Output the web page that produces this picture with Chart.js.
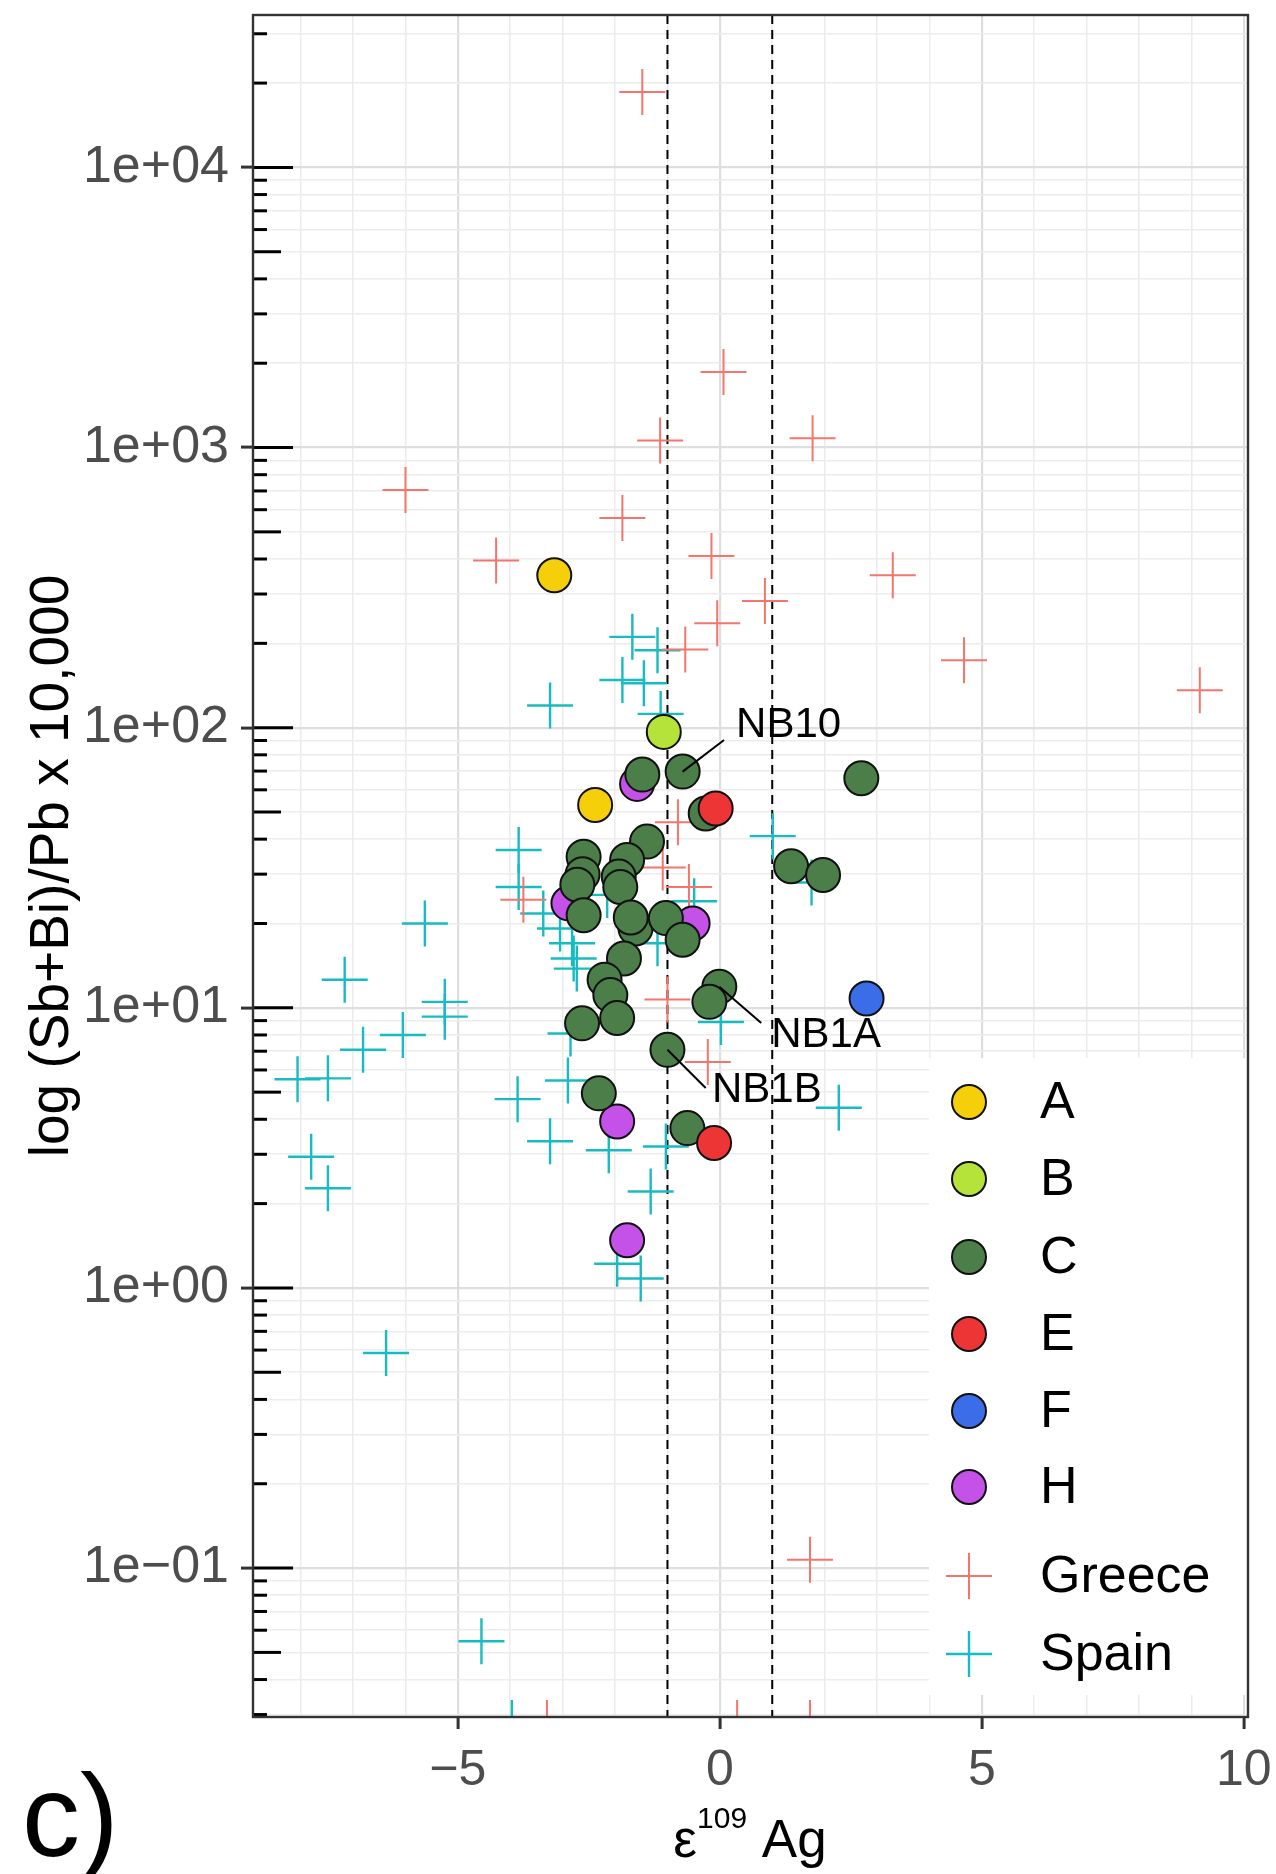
<!DOCTYPE html>
<html>
<head>
<meta charset="utf-8">
<script src="https://cdn.jsdelivr.net/npm/chart.js@4.4.1/dist/chart.umd.min.js"></script>
<style>
html, body { margin: 0; padding: 0; background: #fff; }
#wrap { position: relative; width: 1276px; height: 1874px; overflow: hidden; }
#plot { position: absolute; left: 0; top: 0; }
.txt { position: absolute; font-family: 'Liberation Sans', Arial, sans-serif; color: #000; white-space: nowrap; line-height: 1; }
</style>
</head>
<body>
<div id="wrap">
  <canvas id="plot" width="1276" height="1874"></canvas>
  <div class="txt" style="left:750px; top:1812px; font-size:53px; transform:translateX(-50%);">ε<span style="font-size:30px; position:relative; top:-29px;">109</span> Ag</div>
  <div class="txt" style="left:22px; top:1758px; font-size:116px;">c)</div>
</div>
<script>
const FONT = "'Liberation Sans', Arial, sans-serif";

// groups (circles)
const aX = [-3.16, -2.38];
const aY = [350, 53];
const bX = [-1.07];
const bY = [96.6];
const cX = [-1.48, -0.71, -0.27, -1.39, -1.77, -2.60, -2.62, -2.72, 1.36, 2.70, 1.97, -1.93, -1.90, -2.60,
            -1.61, -1.70, -1.03, -0.71, -1.83, -2.20, -2.09, -1.96, -2.63, -0.01, -0.20, -1.00, -2.31, -0.62];
const cY = [68, 69.7, 49.4, 39.2, 33.7, 34.6, 30.0, 27.5, 32, 66, 29.8, 29.4, 27.0, 21.4,
            19.2, 21.0, 20.9, 17.5, 15.0, 12.6, 11.1, 9.2, 8.8, 11.9, 10.5, 7.08, 4.95, 3.72];
const eX = [-0.08, -0.11];
const eY = [51.5, 3.29];
const fX = [2.80];
const fY = [10.8];
const hX = [-1.58, -2.89, -0.52, -1.96, -1.77];
const hY = [63, 23.6, 20, 3.93, 1.48];

// reference crosses
const greeceX = [-1.48, 0.07, -1.14, 1.77, -6.00, -1.86, -4.27, -0.16, 3.30, 0.86, -0.05, -0.66, 4.66, 9.16,
                 -0.80, -1.09, -0.59, -3.75, -1.00, -0.23, 1.72, -3.30, 0.33, 1.72];
const greeceY = [18600, 1860, 1060, 1080, 705, 560, 395, 410, 350, 283, 236, 190, 174, 136,
                 46, 31.7, 27, 24.3, 10.7, 6.4, 0.107, 0.028, 0.028, 0.028];
const spainX = [-1.67, -1.19, -1.86, -1.45, -1.13, -3.24, -3.84, 1.01, 1.75, -3.84, -3.37, -3.05, -2.82, -2.79,
                -2.73, -2.15, -1.19, -0.49, 0.02, -2.85, -2.90, -3.86, -3.24, -2.12, -1.03, -1.32, -1.96, -1.51,
                -5.63, -7.16, -5.25, -5.25, -6.05, -6.81, -8.06, -7.48, -7.80, -7.48, -6.37, -4.55, 2.27, -3.97];
const spainY = [211, 189, 148, 144, 112, 120, 36.6, 41, 28, 27, 21.7, 19.2, 17.0, 15.0,
                13.8, 25.3, 17, 24, 8.9, 8.1, 5.5, 4.72, 3.34, 3.1, 3.2, 2.21, 1.22, 1.08,
                20.0, 12.6, 10.5, 9.3, 8.0, 7.08, 5.56, 5.6, 2.94, 2.27, 0.586, 0.0548, 4.4, 0.028];

// tick labels
const xLabelValues = [-5, 0, 5, 10];
const xLabelText = ['\u22125', '0', '5', '10'];
const yLabelValues = [0.1, 1, 10, 100, 1000, 10000];
const yLabelText = ['1e\u221201', '1e+00', '1e+01', '1e+02', '1e+03', '1e+04'];

// reference lines and sample labels
const vLines = [-1, 1];
const labelNames = ['NB10', 'NB1A', 'NB1B'];
const labelPointX = [-0.71, -0.01, -1.00];
const labelPointY = [69.7, 11.9, 7.08];
const labelLineX = [0.08, 0.79, -0.27];
const labelLineY = [90.4, 8.83, 5.17];
const labelTextX = [0.31, 0.98, -0.15];
const labelTextY = [102, 7.94, 5.09];

const X_MIN = -8.91, X_MAX = 10.08, Y_MIN = 0.0294, Y_MAX = 35000;

const xGrid = [];
for (let v = -8; v <= 10; v++) xGrid.push(v);
const yGrid = [];
for (let e = -2; e <= 4; e++) {
    for (let s = 1; s <= 9; s++) {
        const v = s * Math.pow(10, e);
        if (v >= Y_MIN && v <= Y_MAX) yGrid.push(+v.toPrecision(3));
    }
}

const pts = (xs, ys) => xs.map((x, i) => ({ x: x, y: ys[i] }));
const isDecade = v => Math.abs(Math.log10(v) - Math.round(Math.log10(v))) < 1e-6;

const circle = (label, xs, ys, color) => ({
    label: label,
    data: pts(xs, ys),
    pointStyle: 'circle',
    pointRadius: 17,
    pointHoverRadius: 17,
    pointBorderWidth: 2,
    pointBackgroundColor: color,
    pointBorderColor: '#111',
    showLine: false
});
const cross = (label, xs, ys, color, width) => ({
    label: label,
    data: pts(xs, ys),
    pointStyle: 'cross',
    pointRadius: 23,
    pointHoverRadius: 23,
    pointBorderWidth: width,
    pointBackgroundColor: color,
    pointBorderColor: color,
    showLine: false
});

// first dataset is drawn on top
const datasets = [
    circle('E', eX, eY, '#ee3535'),
    circle('F', fX, fY, '#3c6de8'),
    circle('B', bX, bY, '#b6e33a'),
    circle('A', aX, aY, '#f4cf0a'),
    circle('C', cX, cY, '#4b7e49'),
    circle('H', hX, hY, '#c452e8'),
    cross('Greece', greeceX, greeceY, '#f5756c', 2),
    cross('Spain', spainX, spainY, '#18bcc0', 2.4)
];

const legendOrder = ['A', 'B', 'C', 'E', 'F', 'H', 'Greece', 'Spain'];
const legendRowY = [1102, 1179, 1257, 1334, 1411, 1487, 1576, 1654];

const extras = {
    id: 'extras',
    beforeDatasetsDraw(chart) {
        const { ctx, chartArea, scales } = chart;
        ctx.save();
        ctx.beginPath();
        ctx.rect(chartArea.left, chartArea.top, chartArea.right - chartArea.left, chartArea.bottom - chartArea.top);
        ctx.clip();
        // dashed reference lines
        ctx.strokeStyle = '#000';
        ctx.lineWidth = 2;
        ctx.setLineDash([9, 6]);
        vLines.forEach(v => {
            const px = scales.x.getPixelForValue(v);
            ctx.beginPath();
            ctx.moveTo(px, chartArea.top);
            ctx.lineTo(px, chartArea.bottom);
            ctx.stroke();
        });
        ctx.setLineDash([]);
        // log ticks inside the panel
        ctx.lineWidth = 3;
        yGrid.forEach(v => {
            const s = Math.round(v / Math.pow(10, Math.floor(Math.log10(v) + 1e-9)));
            const len = s === 1 ? 40 : (s === 5 ? 28 : 14);
            const py = scales.y.getPixelForValue(v);
            ctx.beginPath();
            ctx.moveTo(chartArea.left, py);
            ctx.lineTo(chartArea.left + len, py);
            ctx.stroke();
        });
        ctx.restore();
    },
    afterDatasetsDraw(chart) {
        const { ctx, chartArea, scales } = chart;
        ctx.save();
        // sample labels
        ctx.strokeStyle = '#000';
        ctx.lineWidth = 2;
        ctx.fillStyle = '#000';
        ctx.font = '42px ' + FONT;
        ctx.textBaseline = 'middle';
        ctx.textAlign = 'left';
        labelNames.forEach((name, i) => {
            ctx.beginPath();
            ctx.moveTo(scales.x.getPixelForValue(labelPointX[i]), scales.y.getPixelForValue(labelPointY[i]));
            ctx.lineTo(scales.x.getPixelForValue(labelLineX[i]), scales.y.getPixelForValue(labelLineY[i]));
            ctx.stroke();
            ctx.fillText(name, scales.x.getPixelForValue(labelTextX[i]), scales.y.getPixelForValue(labelTextY[i]));
        });
        // legend inside the panel
        ctx.fillStyle = '#fff';
        ctx.fillRect(929, 1058, chartArea.right - 929, 1695 - 1058);
        legendOrder.forEach((name, k) => {
            const ds = chart.data.datasets.find(d => d.label === name);
            const y = legendRowY[k];
            ctx.fillStyle = ds.pointBackgroundColor;
            ctx.strokeStyle = ds.pointBorderColor;
            ctx.lineWidth = ds.pointBorderWidth;
            Chart.helpers.drawPoint(ctx, {
                pointStyle: ds.pointStyle,
                radius: ds.pointRadius,
                borderWidth: ds.pointBorderWidth,
                rotation: 0
            }, 969, y);
            ctx.fillStyle = '#000';
            ctx.font = '52px ' + FONT;
            ctx.textBaseline = 'middle';
            ctx.fillText(name, 1040, y + 2);
        });
        // panel border
        ctx.strokeStyle = '#333';
        ctx.lineWidth = 2.4;
        ctx.strokeRect(chartArea.left, chartArea.top, chartArea.right - chartArea.left, chartArea.bottom - chartArea.top);
        ctx.restore();
    }
};

const ctx = document.getElementById('plot').getContext('2d');
window.plotInstance = new Chart(ctx, {
    type: 'scatter',
    data: { datasets: datasets },
    plugins: [extras],
    options: {
        responsive: false,
        animation: false,
        devicePixelRatio: 1,
        events: [],
        layout: { autoPadding: false, padding: { left: 0, top: 15, right: 28, bottom: 0 } },
        plugins: {
            legend: { display: false },
            tooltip: { enabled: false }
        },
        scales: {
            x: {
                type: 'linear',
                min: X_MIN,
                max: X_MAX,
                bounds: 'data',
                afterBuildTicks: s => { s.ticks = xGrid.map(v => ({ value: v })); },
                afterFit: s => { s.height = 157; s.paddingLeft = 0; s.paddingRight = 0; },
                border: { display: false },
                grid: {
                    color: c => (c.tick && xLabelValues.includes(c.tick.value)) ? '#dedede' : '#ececec',
                    lineWidth: c => (c.tick && xLabelValues.includes(c.tick.value)) ? 2.2 : 1.6,
                    tickColor: c => (c.tick && xLabelValues.includes(c.tick.value)) ? '#333' : 'rgba(0,0,0,0)',
                    tickWidth: 3,
                    tickLength: 12
                },
                ticks: {
                    autoSkip: false,
                    maxRotation: 0,
                    padding: 12,
                    color: '#4d4d4d',
                    font: { size: 50, family: FONT },
                    callback: v => {
                        const i = xLabelValues.indexOf(v);
                        return i >= 0 ? xLabelText[i] : '';
                    }
                }
            },
            y: {
                type: 'logarithmic',
                min: Y_MIN,
                max: Y_MAX,
                bounds: 'data',
                afterBuildTicks: s => { s.ticks = yGrid.map(v => ({ value: v })); },
                afterFit: s => { s.width = 253; s.paddingTop = 0; s.paddingBottom = 0; },
                border: { display: false },
                grid: {
                    color: c => (c.tick && isDecade(c.tick.value)) ? '#dedede' : '#ececec',
                    lineWidth: c => (c.tick && isDecade(c.tick.value)) ? 2.2 : 1.6,
                    tickColor: c => (c.tick && isDecade(c.tick.value)) ? '#333' : 'rgba(0,0,0,0)',
                    tickWidth: 3,
                    tickLength: 12
                },
                ticks: {
                    autoSkip: false,
                    padding: 12,
                    color: '#4d4d4d',
                    font: { size: 52, family: FONT },
                    callback: v => {
                        const i = yLabelValues.findIndex(t => Math.abs(Math.log10(t) - Math.log10(v)) < 1e-6);
                        return i >= 0 ? yLabelText[i] : '';
                    }
                },
                title: {
                    display: true,
                    text: 'log (Sb+Bi)/Pb x 10,000',
                    color: '#000',
                    font: { size: 55, family: FONT },
                    padding: { top: 20, bottom: 0 }
                }
            }
        }
    }
});
</script>
</body>
</html>
